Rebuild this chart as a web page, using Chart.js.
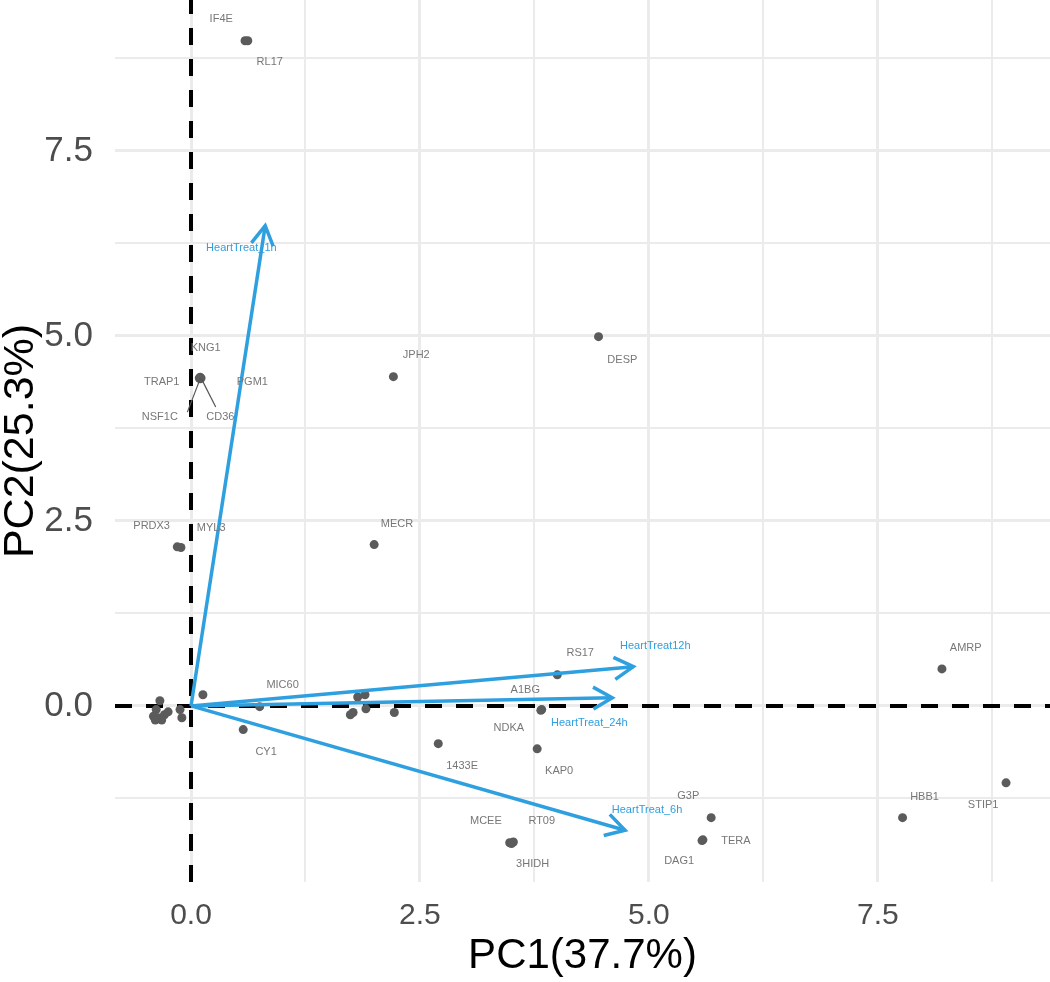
<!DOCTYPE html>
<html>
<head>
<meta charset="utf-8">
<title>PCA biplot</title>
<script src="https://cdn.jsdelivr.net/npm/chart.js@4.4.1/dist/chart.umd.min.js"></script>
<style>
  html, body { margin: 0; padding: 0; background: #fff; }
  #wrap { width: 1050px; height: 982px; }
</style>
</head>
<body>
<div id="wrap"><canvas id="biplot" width="1050" height="982"></canvas></div>
<script>
/* ============================================================
   PCA biplot — individuos (genes) + variables (HeartTreat_*)
   ============================================================ */

// Genes con etiqueta
const GENE_NAMES = ['IF4E', 'RL17', 'KNG1', 'TRAP1', 'NSF1C', 'CD36', 'PGM1', 'JPH2', 'DESP', 'MECR',
  'PRDX3', 'MYL3', 'MIC60', 'CY1', '1433E', 'A1BG', 'NDKA', 'KAP0', 'RS17', 'G3P',
  'TERA', 'DAG1', 'MCEE', 'RT09', '3HIDH', 'AMRP', 'HBB1', 'STIP1'];
const GENE_PC1 = [0.59, 0.62, 0.10, 0.09, 0.10, 0.11, 0.10, 2.21, 4.45, 2.00,
  -0.15, -0.11, 0.75, 0.57, 2.70, 3.83, 3.82, 3.78, 4.00, 5.68,
  5.59, 5.58, 3.48, 3.52, 3.50, 8.20, 7.77, 8.90];
const GENE_PC2 = [8.99, 8.99, 4.44, 4.43, 4.42, 4.43, 4.43, 4.45, 4.99, 2.18,
  2.15, 2.14, -0.01, -0.32, -0.51, -0.05, -0.06, -0.58, 0.42, -1.51,
  -1.81, -1.82, -1.85, -1.84, -1.86, 0.50, -1.51, -1.04];
// posición de cada etiqueta (repel), en unidades de datos
const LABEL_PC1 = [0.33, 0.86, 0.16, -0.32, -0.34, 0.32, 0.67, 2.46, 4.71, 2.25,
  -0.43, 0.22, 1.00, 0.82, 2.96, 3.65, 3.47, 4.02, 4.25, 5.43,
  5.95, 5.33, 3.22, 3.83, 3.73, 8.46, 8.01, 8.65];
const LABEL_PC2 = [9.28, 8.70, 4.84, 4.38, 3.91, 3.91, 4.38, 4.74, 4.68, 2.46,
  2.43, 2.41, 0.28, -0.62, -0.81, 0.22, -0.30, -0.88, 0.72, -1.22,
  -1.82, -2.09, -1.55, -1.55, -2.14, 0.78, -1.23, -1.34];
// segmentos etiqueta -> punto (solo NSF1C y CD36)
const SEG_NAMES = ['NSF1C', 'CD36'];
const SEG_PC1 = [-0.04, 0.27];
const SEG_PC2 = [3.97, 4.04];

// Genes sin etiqueta (nube cerca del origen)
const OTHER_PC1 = [0.13, -0.12, -0.10, -0.34, -0.41, -0.36, -0.29, -0.25, -0.38, -0.32, -0.39,
  1.82, 1.90, 1.74, 1.77, 1.91, 2.22];
const OTHER_PC2 = [0.15, -0.05, -0.16, 0.07, -0.14, -0.16, -0.12, -0.08, -0.05, -0.19, -0.19,
  0.12, 0.15, -0.12, -0.09, -0.04, -0.09];

// Variables (flechas)
const VAR_NAMES = ['HeartTreat_1h', 'HeartTreat12h', 'HeartTreat_24h', 'HeartTreat_6h'];
const VAR_PC1 = [0.81, 4.83, 4.60, 4.74];
const VAR_PC2 = [6.49, 0.53, 0.11, -1.68];
const VAR_LABEL_PC1 = [0.55, 5.07, 4.35, 4.98];
const VAR_LABEL_PC2 = [6.19, 0.81, -0.23, -1.41];

// Ejes
const X_MIN = -0.83, X_MAX = 9.38;
const Y_MIN = -2.38, Y_MAX = 9.54;
const X_TICKS = [0, 1.25, 2.5, 3.75, 5, 6.25, 7.5, 8.75];
const Y_TICKS = [-1.25, 0, 1.25, 2.5, 3.75, 5, 6.25, 7.5, 8.75];
const X_TITLE = 'PC1(37.7%)';
const Y_TITLE = 'PC2(25.3%)';

const FONT = "'Liberation Sans', Arial, sans-serif";
const ARROW_COLOR = '#2E9FDF';
const POINT_COLOR = '#5b5b5b';

const isMajor = v => Math.abs(v / 2.5 - Math.round(v / 2.5)) < 1e-6;

function axisOptions(min, max, ticks, title, isX) {
  return {
    type: 'linear',
    min: min,
    max: max,
    afterBuildTicks: s => { s.ticks = ticks.map(v => ({ value: v })); },
    afterFit: s => {
      if (isX) s.height = 100; else s.width = 115;
      // sin reservar espacio extra por las etiquetas de los extremos
      s.paddingTop = s.paddingBottom = s.paddingLeft = s.paddingRight = 0;
    },
    border: { display: false },
    grid: {
      color: '#ebebeb',
      lineWidth: c => (c.tick && isMajor(c.tick.value)) ? 3 : 2,
      drawTicks: false
    },
    ticks: {
      autoSkip: false,
      maxRotation: 0,
      padding: isX ? 16 : 22,
      color: '#4d4d4d',
      font: { family: FONT, size: isX ? 30 : 35 },
      callback: v => isMajor(v) ? v.toFixed(1) : ''
    },
    title: {
      display: true,
      text: title,
      color: '#000',
      font: isX ? { family: FONT, size: 42 } : { family: FONT, size: 43, lineHeight: 1 },
      padding: isX ? 0 : { top: 0, bottom: 0 }
    }
  };
}

const pointsData = GENE_NAMES.map((n, i) => ({ x: GENE_PC1[i], y: GENE_PC2[i] }))
  .concat(OTHER_PC1.map((x, i) => ({ x: x, y: OTHER_PC2[i] })));

const datasets = [
  {
    type: 'line', order: 3,
    data: [{ x: 0, y: Y_MIN }, { x: 0, y: Y_MAX }],
    borderColor: '#000', borderWidth: 4, borderDash: [17, 14], pointRadius: 0
  },
  {
    type: 'line', order: 3,
    data: [{ x: X_MIN, y: 0 }, { x: X_MAX, y: 0 }],
    borderColor: '#000', borderWidth: 4, borderDash: [17, 14], pointRadius: 0
  },
  {
    type: 'scatter', order: 2,
    data: pointsData,
    backgroundColor: POINT_COLOR, borderWidth: 0, pointRadius: 4.5
  }
];
VAR_NAMES.forEach((n, i) => {
  datasets.push({
    type: 'line', order: 1,
    data: [{ x: 0, y: 0 }, { x: VAR_PC1[i], y: VAR_PC2[i] }],
    borderColor: ARROW_COLOR, borderWidth: 3.5, pointRadius: 0
  });
});

// Puntas de flecha + etiquetas
const biplotDecor = {
  id: 'biplotDecor',
  afterDatasetsDraw(chart) {
    const { ctx, scales: { x, y } } = chart;
    ctx.save();

    // flechas
    ctx.strokeStyle = ARROW_COLOR;
    ctx.lineWidth = 3.5;
    ctx.lineCap = 'butt';
    VAR_NAMES.forEach((n, i) => {
      const x0 = x.getPixelForValue(0), y0 = y.getPixelForValue(0);
      const x1 = x.getPixelForValue(VAR_PC1[i]), y1 = y.getPixelForValue(VAR_PC2[i]);
      const a = Math.atan2(y1 - y0, x1 - x0);
      const len = 22, spread = Math.PI / 6;
      ctx.beginPath();
      ctx.moveTo(x1 - len * Math.cos(a - spread), y1 - len * Math.sin(a - spread));
      ctx.lineTo(x1, y1);
      ctx.lineTo(x1 - len * Math.cos(a + spread), y1 - len * Math.sin(a + spread));
      ctx.stroke();
    });

    // segmentos de repel
    ctx.strokeStyle = '#555';
    ctx.lineWidth = 1.2;
    SEG_NAMES.forEach((n, i) => {
      const g = GENE_NAMES.indexOf(n);
      ctx.beginPath();
      ctx.moveTo(x.getPixelForValue(GENE_PC1[g]), y.getPixelForValue(GENE_PC2[g]));
      ctx.lineTo(x.getPixelForValue(SEG_PC1[i]), y.getPixelForValue(SEG_PC2[i]));
      ctx.stroke();
    });

    ctx.textAlign = 'center';
    ctx.textBaseline = 'middle';
    ctx.font = '11px ' + FONT;

    ctx.fillStyle = '#777777';
    GENE_NAMES.forEach((n, i) => {
      ctx.fillText(n, x.getPixelForValue(LABEL_PC1[i]), y.getPixelForValue(LABEL_PC2[i]));
    });

    ctx.fillStyle = ARROW_COLOR;
    VAR_NAMES.forEach((n, i) => {
      ctx.fillText(n, x.getPixelForValue(VAR_LABEL_PC1[i]), y.getPixelForValue(VAR_LABEL_PC2[i]));
    });

    ctx.restore();
  }
};

const canvas = document.getElementById('biplot');
new Chart(canvas.getContext('2d'), {
  type: 'scatter',
  data: { datasets: datasets },
  options: {
    responsive: false,
    animation: false,
    layout: { padding: 0, autoPadding: false },
    plugins: { legend: { display: false }, tooltip: { enabled: false } },
    scales: {
      x: axisOptions(X_MIN, X_MAX, X_TICKS, X_TITLE, true),
      y: axisOptions(Y_MIN, Y_MAX, Y_TICKS, Y_TITLE, false)
    }
  },
  plugins: [biplotDecor]
});
</script>
</body>
</html>
